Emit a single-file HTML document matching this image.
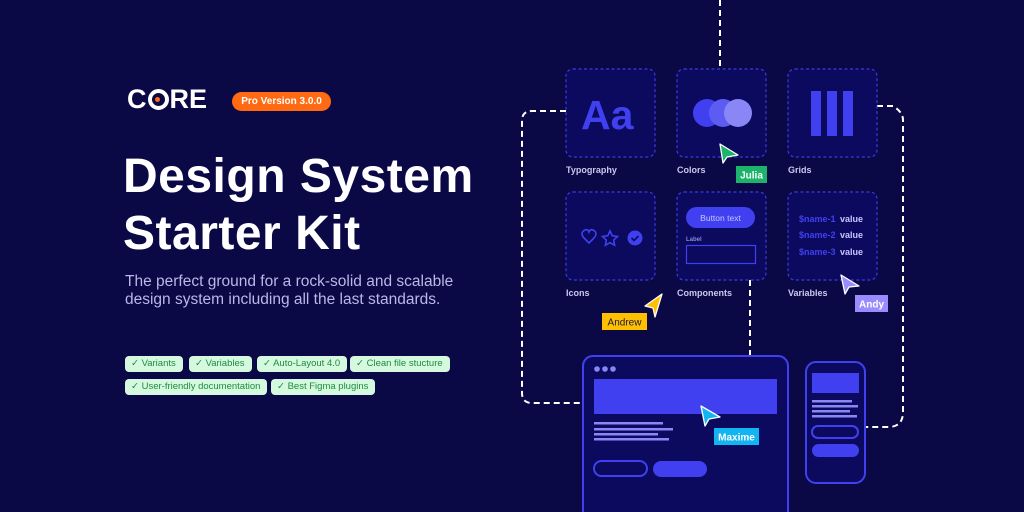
<!DOCTYPE html>
<html><head><meta charset="utf-8"><style>
body{margin:0;width:1024px;height:512px;overflow:hidden;background:#0b0846;font-family:"Liberation Sans",sans-serif;position:relative}
.a{position:absolute}
h1{position:absolute;left:123px;top:148px;margin:0;color:#fff;font-size:48px;line-height:57px;font-weight:bold;letter-spacing:0.5px;white-space:nowrap}
.p{left:125px;top:273px;color:#b9b8e6;font-size:15.5px;line-height:18px;white-space:nowrap}
.chip{position:absolute;height:16px;background:#d4f9df;border-radius:4px;color:#1f8b3f;font-size:9.5px;line-height:16px;padding:0 7px 0 6px;white-space:nowrap;box-shadow:0 0 0 1.5px #0b0846}
.lbl{position:absolute;color:#c9c8ef;font-size:9px;font-weight:bold}
</style></head><body>
<div class="a" style="left:127px;top:84px;color:#fff;font-size:27px;font-weight:bold;letter-spacing:0px">C<span style="display:inline-block;width:21px;height:21px;border:4.5px solid #fff;border-radius:50%;box-sizing:border-box;position:relative;top:2px;margin:0 1px"><span style="position:absolute;left:3.5px;top:3.5px;width:5px;height:5px;background:#ff6a13;border-radius:50%"></span></span>RE</div>
<div class="a" style="left:232px;top:92px;width:99px;height:19px;background:#ff6a13;border-radius:10px;color:#fff;font-size:10px;font-weight:bold;line-height:19px;text-align:center">Pro Version 3.0.0</div>
<h1>Design System<br>Starter Kit</h1>
<div class="a p">The perfect ground for a rock-solid and scalable<br>design system including all the last standards.</div>
<div class="chip" style="left:125px;top:356px">✓ Variants</div>
<div class="chip" style="left:189px;top:356px">✓ Variables</div>
<div class="chip" style="left:257px;top:356px">✓ Auto-Layout 4.0</div>
<div class="chip" style="left:350px;top:356px">✓ Clean file stucture</div>
<div class="chip" style="left:125px;top:379px">✓ User-friendly documentation</div>
<div class="chip" style="left:271px;top:379px">✓ Best Figma plugins</div>

<svg class="a" style="left:0;top:0" width="1024" height="512">
<g fill="none" stroke="#fff" stroke-width="2" stroke-dasharray="6 4">
<path d="M720 0V69"/>
<path d="M566 111H532Q522 111 522 121V393Q522 403 532 403H583"/>
<path d="M877 106H893Q903 112 903 120V412Q903 426 890 427H866"/>
<path d="M750 280V355"/>
</g>
<g fill="#0b0a5e" stroke="#3a3ae0" stroke-width="1.2" stroke-dasharray="3 2.5">
<rect x="566" y="69" width="89" height="88" rx="7"/>
<rect x="677" y="69" width="89" height="88" rx="7"/>
<rect x="788" y="69" width="89" height="88" rx="7"/>
<rect x="566" y="192" width="89" height="88" rx="7"/>
<rect x="677" y="192" width="89" height="88" rx="7"/>
<rect x="788" y="192" width="89" height="88" rx="7"/>
</g>
<text x="581" y="129" fill="#4040f0" font-size="41" font-weight="bold" font-family="Liberation Sans">Aa</text>
<circle cx="707" cy="113" r="14" fill="#4040f0"/><circle cx="723" cy="113" r="14" fill="#5c5cf2"/><circle cx="738" cy="113" r="14" fill="#8a86f5"/>
<rect x="811" y="91" width="10" height="45" fill="#4040f0"/><rect x="827" y="91" width="10" height="45" fill="#4040f0"/><rect x="843" y="91" width="10" height="45" fill="#4040f0"/>
<path d="M585 239q-6-6 0-9q3-1 4 2q1-3 4-2q6 3 0 9l-4 4z" fill="none" stroke="#4040f0" stroke-width="1.6"/>
<path d="M610 231l2.3 4.8 5.2.7-3.8 3.6.9 5.1-4.6-2.5-4.6 2.5.9-5.1-3.8-3.6 5.2-.7z" fill="none" stroke="#4040f0" stroke-width="1.6"/>
<circle cx="635" cy="238" r="7.5" fill="#4040f0"/><path d="M631.5 238l2.5 2.5 4.5-4.5" stroke="#0b0a5e" stroke-width="1.6" fill="none"/>
<rect x="686" y="207" width="69" height="21" rx="10.5" fill="#4040f0"/>
<text x="720.5" y="221" fill="#c8c6ff" font-size="8.5" text-anchor="middle" font-family="Liberation Sans">Button text</text>
<text x="686" y="241" fill="#8a88e0" font-size="6" font-weight="bold" font-family="Liberation Sans">Label</text>
<rect x="686.5" y="245.5" width="69" height="18" fill="none" stroke="#4040f0" stroke-width="1.2"/>
<g font-size="9" font-family="Liberation Sans" font-weight="bold">
<text x="799" y="222" fill="#4040f0">$name-1</text><text x="840" y="222" fill="#c8c6ff">value</text>
<text x="799" y="238" fill="#4040f0">$name-2</text><text x="840" y="238" fill="#c8c6ff">value</text>
<text x="799" y="255" fill="#4040f0">$name-3</text><text x="840" y="255" fill="#c8c6ff">value</text>
</g>
<rect x="583" y="356" width="205" height="170" rx="10" fill="#0b0a5e" stroke="#4040f0" stroke-width="2"/>
<circle cx="597" cy="369" r="2.8" fill="#8a86f5"/><circle cx="605" cy="369" r="2.8" fill="#8a86f5"/><circle cx="613" cy="369" r="2.8" fill="#8a86f5"/>
<rect x="594" y="379" width="183" height="35" fill="#4040f0"/>
<g fill="#8a86f5"><rect x="594" y="422" width="69" height="2.5"/><rect x="594" y="428" width="79" height="2.5"/><rect x="594" y="433" width="64" height="2.5"/><rect x="594" y="438" width="75" height="2.5"/></g>
<rect x="594" y="461" width="53" height="15" rx="7.5" fill="none" stroke="#4040f0" stroke-width="2"/>
<rect x="653" y="461" width="54" height="16" rx="8" fill="#4040f0"/>
<rect x="806" y="362" width="59" height="121" rx="10" fill="#0b0a5e" stroke="#4040f0" stroke-width="2"/>
<rect x="812" y="373" width="47" height="20" fill="#4040f0"/>
<g fill="#8a86f5"><rect x="812" y="400" width="40" height="2.5"/><rect x="812" y="405" width="46" height="2.5"/><rect x="812" y="410" width="38" height="2.5"/><rect x="812" y="415" width="45" height="2.5"/></g>
<rect x="812" y="426" width="46" height="12" rx="6" fill="none" stroke="#4040f0" stroke-width="2"/>
<rect x="812" y="444" width="47" height="13" rx="6.5" fill="#4040f0"/>
<g stroke="#fff" stroke-width="1.3" stroke-linejoin="round">
<path d="M720 144l3 19 4-6 11-2z" fill="#1db36c"/>
<path d="M662 294l-17 12 8 2 2 9z" fill="#ffc000"/>
<path d="M841 275l4 19 4-7 10-1z" fill="#9a8cff"/>
<path d="M701 406l4 20 4-7 11-2z" fill="#12b4f2"/>
</g>
<rect x="736" y="166" width="31" height="17" fill="#1db36c"/><text x="751.5" y="178.5" fill="#fff" font-size="10" font-weight="bold" text-anchor="middle" font-family="Liberation Sans">Julia</text>
<rect x="602" y="313" width="45" height="17" fill="#ffc000"/><text x="624.5" y="325.5" fill="#1a1640" font-size="10" text-anchor="middle" font-family="Liberation Sans">Andrew</text>
<rect x="855" y="295" width="33" height="17" fill="#9a8cff"/><text x="871.5" y="307.5" fill="#fff" font-size="10" font-weight="bold" text-anchor="middle" font-family="Liberation Sans">Andy</text>
<rect x="714" y="428" width="45" height="17" fill="#12b4f2"/><text x="736.5" y="440.5" fill="#fff" font-size="10" font-weight="bold" text-anchor="middle" font-family="Liberation Sans">Maxime</text>
</svg>
<div class="lbl" style="left:566px;top:165px">Typography</div>
<div class="lbl" style="left:677px;top:165px">Colors</div>
<div class="lbl" style="left:788px;top:165px">Grids</div>
<div class="lbl" style="left:566px;top:288px">Icons</div>
<div class="lbl" style="left:677px;top:288px">Components</div>
<div class="lbl" style="left:788px;top:288px">Variables</div>
</body></html>
